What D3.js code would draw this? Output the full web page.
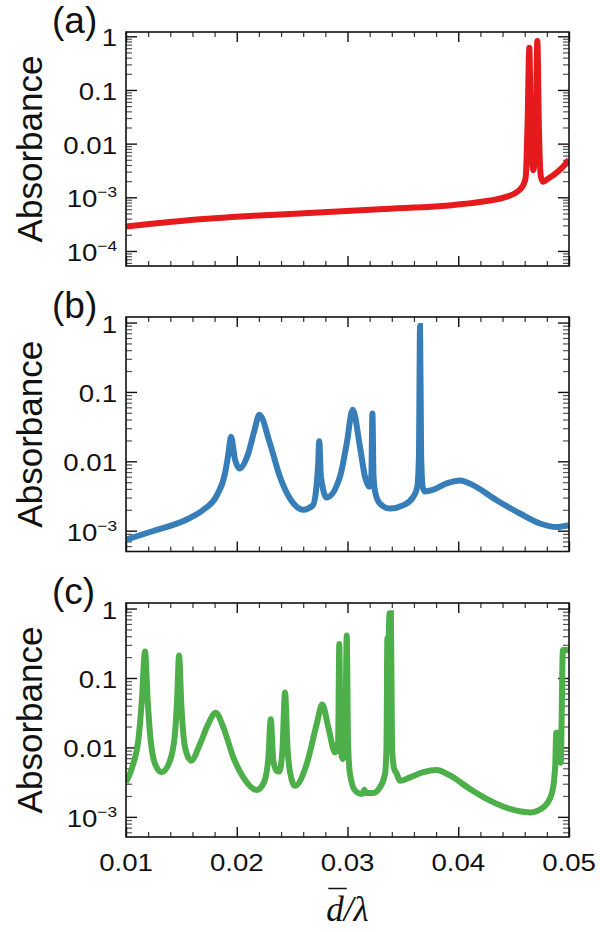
<!DOCTYPE html>
<html>
<head>
<meta charset="utf-8">
<script src="https://cdn.jsdelivr.net/npm/d3@7"></script>
<style>
  body { margin: 0; background: #fff; }
  text { font-family: "Liberation Sans", Arial, sans-serif; fill: #111; }
</style>
</head>
<body>
<svg id="chart" width="600" height="932"></svg>
<script>
// values (x = d/lambda, y = absorbance)
const xA = [0.0100, 0.01668, 0.0212, 0.0257, 0.0329, 0.0404, 0.0444, 0.0456, 0.0460, 0.0461, 0.04625, 0.04642,
  0.04655, 0.04678, 0.04700, 0.04714, 0.04728, 0.04745, 0.04765, 0.0480, 0.0489, 0.0495, 0.0500];
const yA = [2.85e-4, 3.9e-4, 4.5e-4, 5.0e-4, 6.0e-4, 7.5e-4, 1.03e-3, 1.42e-3, 1.96e-3, 2.5e-3, 0.02, 0.61,
  0.02, 3.2e-3, 0.02, 0.82, 0.02, 2.5e-3, 1.95e-3, 2.15e-3, 2.9e-3, 3.8e-3, 5.0e-3];

const xB = [0.01000, 0.01246, 0.01548, 0.01698, 0.01819, 0.01894, 0.01925, 0.01948, 0.01985, 0.02023,
  0.02104, 0.02160, 0.02204, 0.02300, 0.02390, 0.02481, 0.02601, 0.02686, 0.02716, 0.02735, 0.02745,
  0.02760, 0.02812, 0.02932, 0.02993, 0.03047, 0.03113, 0.03158, 0.03197, 0.03215, 0.03225, 0.03235,
  0.03250, 0.03293, 0.03384, 0.03504, 0.03594, 0.03630, 0.03645, 0.03655, 0.03665, 0.03680, 0.03700,
  0.03775, 0.03896, 0.04016, 0.04136, 0.04347, 0.04557, 0.04738, 0.04889, 0.05000];
const yB = [7.4e-4, 9.9e-4, 1.45e-3, 2.0e-3, 3.2e-3, 6.7e-3, 0.013, 0.0225, 0.0105, 7.9e-3,
  0.013, 0.028, 0.047, 0.018, 6.0e-3, 2.9e-3, 2.0e-3, 2.3e-3, 3.8e-3, 9e-3, 0.0195,
  6e-3, 3.0e-3, 6.0e-3, 0.018, 0.0555, 0.016, 6.0e-3, 4.3e-3, 6e-3, 0.049, 6e-3,
  3.6e-3, 2.46e-3, 2.08e-3, 2.33e-3, 3.07e-3, 4.3e-3, 0.012, 0.89, 0.012, 4.2e-3, 3.67e-3,
  3.9e-3, 4.8e-3, 5.3e-3, 4.5e-3, 2.75e-3, 1.77e-3, 1.27e-3, 1.13e-3, 1.2e-3];

const xC = [0.01000, 0.01066, 0.01111, 0.01142, 0.01172, 0.01195, 0.01217, 0.01262, 0.01322, 0.01397,
  0.01442, 0.01462, 0.01479, 0.01500, 0.01533, 0.01587, 0.01668, 0.01743, 0.01810, 0.01879, 0.01969,
  0.02059, 0.02180, 0.02246, 0.02285, 0.02307, 0.02330, 0.02360, 0.02384, 0.02412, 0.02436, 0.02458,
  0.02480, 0.02526, 0.02632, 0.02722, 0.02772, 0.02827, 0.02887, 0.02915, 0.02926, 0.02937, 0.02955,
  0.02980, 0.02993, 0.03005, 0.03022, 0.03068, 0.03128, 0.03140, 0.03152, 0.03165, 0.03233, 0.03293,
  0.03339, 0.03352, 0.03360, 0.03370, 0.03380, 0.03392, 0.03402, 0.03420, 0.03444, 0.03474, 0.03564,
  0.03684, 0.03805, 0.03925, 0.04106, 0.04287, 0.04467, 0.04648, 0.04768, 0.04844, 0.04875, 0.04885,
  0.04915, 0.04925, 0.04945, 0.05000];
const yC = [3.14e-3, 5.8e-3, 0.0125, 0.045, 0.24, 0.05, 0.0157, 5.8e-3, 4.4e-3, 6.45e-3,
  0.0157, 0.05, 0.21, 0.04, 0.01, 6.45e-3, 0.0112, 0.0218, 0.0317, 0.0195, 7.2e-3,
  3.7e-3, 2.44e-3, 3.14e-3, 7e-3, 0.0254, 6.5e-3, 4.6e-3, 4.5e-3, 9e-3, 0.0616, 0.01,
  4.5e-3, 2.8e-3, 5.8e-3, 0.0218, 0.0414, 0.0195, 8.5e-3, 0.012, 0.309, 0.012, 6.8e-3,
  0.012, 0.408, 0.012, 4.2e-3, 2.4e-3, 2.14e-3, 2.2e-3, 2.45e-3, 2.2e-3, 2.2e-3, 2.66e-3,
  4.2e-3, 0.01, 0.373, 0.373, 0.855, 0.855, 0.01, 5e-3, 4.2e-3, 3.3e-3, 3.7e-3,
  4.4e-3, 4.74e-3, 3.95e-3, 2.52e-3, 1.71e-3, 1.3e-3, 1.16e-3, 1.37e-3, 2.14e-3, 5.2e-3, 0.0163,
  0.0163, 6e-3, 0.253, 0.253];

const xTicks = [0.01, 0.02, 0.03, 0.04, 0.05];
const xTickLabels = ['0.01', '0.02', '0.03', '0.04', '0.05'];
const yTicksA = [1, 0.1, 0.01, 1e-3, 1e-4];
const yTickLabelsA = ['1', '0.1', '0.01', '10^−3', '10^−4'];
const yTicksBC = [1, 0.1, 0.01, 1e-3];
const yTickLabelsBC = ['1', '0.1', '0.01', '10^−3'];
const panelNames = ['(a)', '(b)', '(c)'];

const LEFT = 126, RIGHT = 569;
const panels = [
  { top: 32, bottom: 266, xs: xA, ys: yA, color: '#e41a1c', lo: -4.28, ticks: yTicksA, labels: yTickLabelsA },
  { top: 317, bottom: 551.5, xs: xB, ys: yB, color: '#377eb8', lo: -3.3, ticks: yTicksBC, labels: yTickLabelsBC },
  { top: 603, bottom: 837, xs: xC, ys: yC, color: '#4daf4a', lo: -3.29, ticks: yTicksBC, labels: yTickLabelsBC }
];

const svg = d3.select('#chart');
const x = d3.scaleLinear().domain([0.01, 0.05]).range([LEFT, RIGHT]);
const xMinor = d3.range(0.012, 0.05, 0.002).filter(v => Math.abs(v * 100 - Math.round(v * 100)) > 1e-6);

function tickStyle(g, color, width) {
  g.select('.domain').remove();
  g.selectAll('line').attr('stroke', color).attr('stroke-width', width);
  g.selectAll('text').remove();
}

panels.forEach((p, i) => {
  const y = d3.scaleLog().domain([Math.pow(10, p.lo), Math.pow(10, 0.08)]).range([p.bottom, p.top]);
  const h = p.bottom - p.top;
  const g = svg.append('g');
  const yMinor = y.ticks().filter(v => Math.abs(Math.log10(v) - Math.round(Math.log10(v))) > 1e-6);

  g.append('clipPath').attr('id', 'clip' + i)
    .append('rect').attr('x', LEFT).attr('y', p.top).attr('width', RIGHT - LEFT).attr('height', h);

  // ticks pointing inward on all four sides
  g.append('g').attr('transform', `translate(${LEFT},0)`)
    .call(d3.axisLeft(y).tickValues(yMinor).tickSize(-6)).call(tickStyle, '#555', 1.2);
  g.append('g').attr('transform', `translate(${LEFT},0)`)
    .call(d3.axisLeft(y).tickValues(p.ticks).tickSize(-11)).call(tickStyle, '#111', 1.4);
  g.append('g').attr('transform', `translate(${RIGHT},0)`)
    .call(d3.axisRight(y).tickValues(yMinor).tickSize(-6)).call(tickStyle, '#555', 1.2);
  g.append('g').attr('transform', `translate(${RIGHT},0)`)
    .call(d3.axisRight(y).tickValues(p.ticks).tickSize(-11)).call(tickStyle, '#111', 1.4);
  [[p.top, d3.axisTop], [p.bottom, d3.axisBottom]].forEach(([yy, ax]) => {
    g.append('g').attr('transform', `translate(0,${yy})`)
      .call(ax(x).tickValues(xMinor).tickSize(-5)).call(tickStyle, '#333', 1.2);
    g.append('g').attr('transform', `translate(0,${yy})`)
      .call(ax(x).tickValues(xTicks).tickSize(-10)).call(tickStyle, '#111', 1.4);
  });

  // y tick labels
  p.ticks.forEach((v, k) => {
    const parts = p.labels[k].split('^');
    const t = g.append('text')
      .attr('transform', `translate(${LEFT - 9},${y(v) + 10}) scale(1.15,1)`)
      .attr('text-anchor', 'end').attr('font-size', 24);
    t.append('tspan').text(parts[0]);
    if (parts[1]) t.append('tspan').attr('font-size', 15).attr('dy', -10).text(parts[1]);
  });

  // curve
  const line = d3.line().x(d => x(d[0])).y(d => y(d[1])).curve(d3.curveMonotoneX);
  g.append('path').datum(d3.zip(p.xs, p.ys))
    .attr('clip-path', `url(#clip${i})`)
    .attr('fill', 'none').attr('stroke', p.color).attr('stroke-width', 6)
    .attr('d', line);

  g.append('rect').attr('x', LEFT).attr('y', p.top).attr('width', RIGHT - LEFT).attr('height', h)
    .attr('fill', 'none').attr('stroke', '#111').attr('stroke-width', 1.6);

  g.append('text').attr('x', 52).attr('y', p.top + 1).attr('font-size', 37).text(panelNames[i]);
  g.append('text').attr('transform', `translate(42,${(p.top + p.bottom) / 2}) rotate(-90)`)
    .attr('text-anchor', 'middle').attr('font-size', 35).text('Absorbance');

  if (i === panels.length - 1) {
    xTicks.forEach((v, k) => {
      g.append('text').attr('transform', `translate(${x(v)},${p.bottom + 33.5}) scale(1.15,1)`)
        .attr('text-anchor', 'middle').attr('font-size', 24).text(xTickLabels[k]);
    });
  }
});

// x axis title: d with overbar, over lambda
const xt = svg.append('text').attr('x', (LEFT + RIGHT) / 2).attr('y', 920.5)
  .attr('text-anchor', 'middle').attr('font-size', 35)
  .style('font-family', '"Liberation Serif", "Times New Roman", serif').style('font-style', 'italic');
xt.append('tspan').text('d');
xt.append('tspan').text('/λ');
const ext = xt.node().getExtentOfChar(0);
svg.append('line').attr('x1', ext.x + 2).attr('x2', ext.x + ext.width + 3)
  .attr('y1', 888.5).attr('y2', 888.5).attr('stroke', '#111').attr('stroke-width', 1.5);
</script>
</body>
</html>
